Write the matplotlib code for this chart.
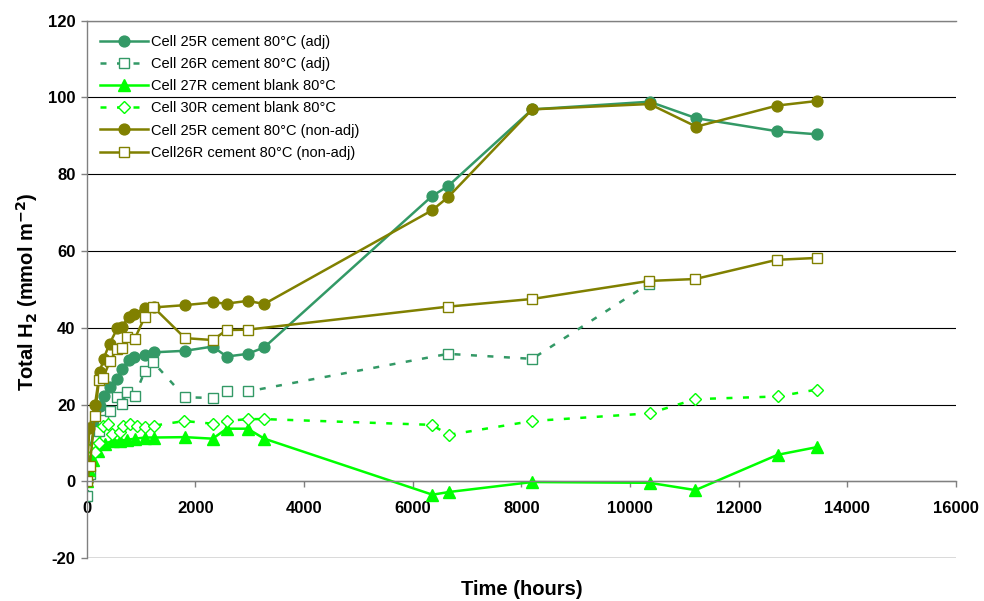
import numpy as np
import matplotlib
matplotlib.use('Agg')
import matplotlib.pyplot as plt

plt.rcParams['font.family'] = ['Liberation Sans', 'DejaVu Sans']
plt.rcParams['axes.unicode_minus'] = False

# times (hours) and total H2 (mmol m-2)
t_25r = [0, 48, 153, 240, 310, 420, 565, 650, 775, 865, 1080, 1235, 1810,
         2319, 2577, 2963, 3269, 6356, 6650, 8200, 10360, 11220, 12710, 13450]
h2_25r_adj = [0, 7, 15, 19.5, 22.1, 24.5, 26.7, 29.3, 31.6, 32.3, 33.0, 33.6, 34.0,
              35.1, 32.5, 33.2, 34.9, 74.3, 76.9, 96.9, 98.9, 94.6, 91.2, 90.4]
h2_25r_nonadj = [0, 13.8, 20.0, 28.4, 31.9, 35.8, 39.9, 40.3, 42.9, 43.7, 45.1, 45.3, 45.9,
                 46.6, 46.3, 47.0, 46.2, 70.6, 74.0, 96.9, 98.3, 92.4, 97.9, 99.1]

t_26r_adj = [10, 55, 150, 226, 306, 429, 563, 656, 736, 883, 1073, 1226, 1810,
             2319, 2577, 2963, 6650, 8200, 10350]
h2_26r_adj = [-3.8, 2, 9, 13, 16, 18.4, 21.9, 20.2, 23.2, 22.2, 28.8, 31.0, 21.9,
              21.7, 23.5, 23.4, 33.2, 31.9, 51.5]

t_26r_nonadj = [10, 55, 150, 226, 306, 429, 563, 656, 736, 883, 1073, 1226, 1810,
                2319, 2577, 2963, 6650, 8200, 10350, 11200, 12700, 13450]
h2_26r_nonadj = [0.1, 3.9, 17.1, 26.4, 27.0, 31.4, 34.5, 34.7, 37.5, 37.1, 42.9, 45.4, 37.3,
                 36.8, 39.4, 39.5, 45.5, 47.5, 52.2, 52.7, 57.7, 58.2]

t_27r = [0, 48, 123, 200, 337, 490, 613, 736, 889, 1073, 1239, 1810, 2319,
         2577, 2963, 3269, 6364, 6665, 8200, 10360, 11205, 12718, 13442]
h2_27r = [0, 3, 5.5, 8, 9.8, 10.6, 10.6, 10.8, 11.1, 11.4, 11.4, 11.5, 11.1,
          13.7, 13.7, 11.1, -3.5, -2.8, -0.2, -0.4, -2.3, 6.9, 8.9]

t_30r = [48, 150, 220, 306, 398, 460, 613, 674, 797, 920, 1073, 1239, 1800,
         2319, 2577, 2963, 3269, 6350, 6665, 8200, 10360, 11205, 12718, 13442]
h2_30r = [8.1, 7.6, 10.0, 14.5, 15.0, 12.4, 12.8, 14.5, 15.0, 14.5, 14.1, 14.5, 15.7,
          15.0, 15.7, 16.2, 16.2, 14.7, 12.1, 15.7, 17.7, 21.4, 22.1, 23.9]

teal = '#339966'
lime = '#00ff00'
olive = '#808000'

fig = plt.figure(figsize=(9.84, 6.01), dpi=100)
ax = fig.add_axes([0.0881, 0.0715, 0.8834, 0.894])

lw = 1.8
dash = (2.4, 4.2)
ax.plot(t_25r, h2_25r_adj, color=teal, lw=lw, marker='o', ms=7.8, mfc=teal, mec=teal,
        label='Cell 25R cement 80°C (adj)')
ax.plot(t_26r_adj, h2_26r_adj, color=teal, lw=lw, dashes=dash, marker='s', ms=7.5,
        mfc='white', mec=teal, mew=1.0, label='Cell 26R cement 80°C (adj)')
ax.plot(t_27r, h2_27r, color=lime, lw=lw, marker='^', ms=8, mfc=lime, mec=lime,
        label='Cell 27R cement blank 80°C')
ax.plot(t_30r, h2_30r, color=lime, lw=lw, dashes=dash, marker='D', ms=6,
        mfc='white', mec=lime, mew=1.0, label='Cell 30R cement blank 80°C')
ax.plot(t_25r, h2_25r_nonadj, color=olive, lw=lw, marker='o', ms=7.8, mfc=olive, mec=olive,
        label='Cell 25R cement 80°C (non-adj)')
ax.plot(t_26r_nonadj, h2_26r_nonadj, color=olive, lw=lw, marker='s', ms=7.5,
        mfc='white', mec=olive, mew=1.0, label='Cell26R cement 80°C (non-adj)')

ax.set_xlim(0, 16000)
ax.set_ylim(-20, 120)
ax.set_xticks(np.arange(0, 16001, 2000))
ax.set_yticks(np.arange(-20, 121, 20))

ax.yaxis.grid(True, color='black', lw=0.8)
ax.set_axisbelow(True)
ax.axhline(-20, color='#808080', lw=1.0, zorder=1.5)

ax.spines['right'].set_visible(False)
ax.spines['top'].set_color('#808080')
ax.spines['left'].set_color('#808080')
ax.spines['bottom'].set_color('#808080')
ax.spines['bottom'].set_position(('data', 0))
for s in ax.spines.values():
    s.set_linewidth(1.0)

ax.tick_params(axis='both', direction='out', length=4, width=1.0, color='#808080',
               labelsize=12, pad=4)
ax.tick_params(axis='x', pad=10)
for lab in ax.get_xticklabels() + ax.get_yticklabels():
    lab.set_fontweight('bold')

ax.set_xlabel('Time (hours)', fontsize=14.5, fontweight='bold')
ax.xaxis.set_label_coords(0.5, -0.04)
ax.set_ylabel('Total H$_\\mathbf{2}$ (mmol m$^{\\mathbf{-2}}$)', fontsize=14.5, fontweight='bold')
ax.yaxis.set_label_coords(-0.054, 0.495)

ax.legend(loc='upper left', bbox_to_anchor=(0.005, 0.99), frameon=False,
          fontsize=10.5, handlelength=3.3, handletextpad=0.2, labelspacing=0.56,
          borderaxespad=0.2)

fig.savefig('out.png', dpi=100)
